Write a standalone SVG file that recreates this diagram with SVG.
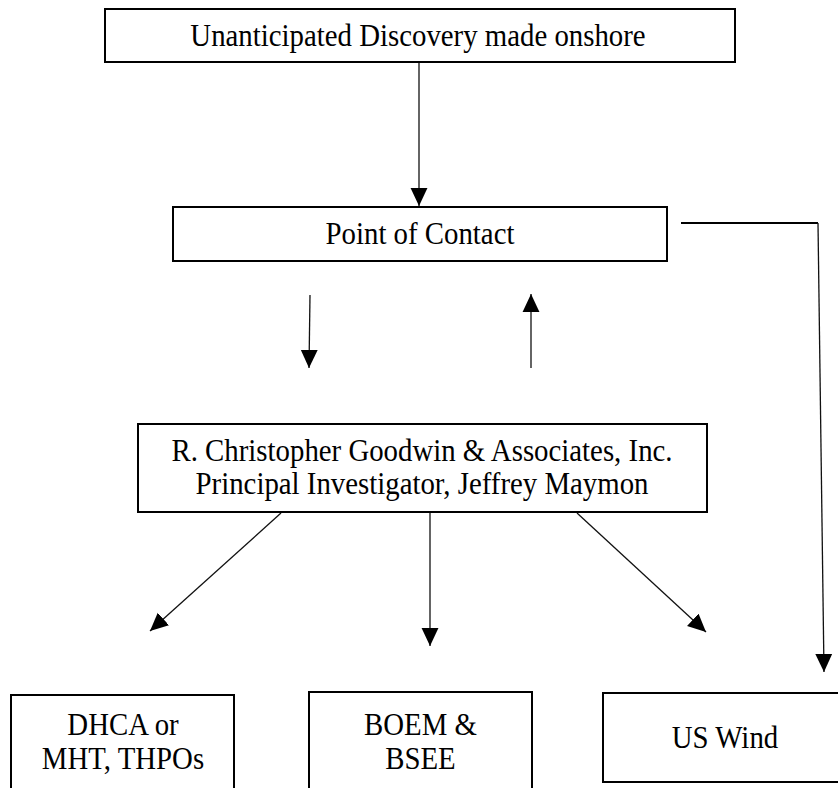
<svg xmlns="http://www.w3.org/2000/svg" width="838" height="788" viewBox="0 0 838 788">
<style>
.box{fill:#fff;stroke:#000;stroke-width:2}
.t{font-family:"Liberation Serif","Times New Roman",serif;font-size:31px;fill:#000;text-anchor:middle}
.c{stroke:#111;stroke-width:1.3;fill:none}
</style>
<defs>
<marker id="ah" markerUnits="userSpaceOnUse" markerWidth="18" markerHeight="18" viewBox="0 0 16 16" refX="16" refY="8" orient="auto">
<path d="M0,0.5 L16,8 L0,15.5 Z" fill="#000"/>
</marker>
</defs>
<rect width="838" height="788" fill="#fff"/>
<g id="connectors">
<line class="c" x1="419" y1="62" x2="419" y2="206" marker-end="url(#ah)"/>
<line class="c" x1="310" y1="295" x2="309" y2="368" marker-end="url(#ah)"/>
<line class="c" x1="531" y1="368" x2="531" y2="294" marker-end="url(#ah)"/>
<line class="c" x1="281" y1="513" x2="150" y2="631" marker-end="url(#ah)"/>
<line class="c" x1="430" y1="513" x2="430" y2="646" marker-end="url(#ah)"/>
<line class="c" x1="577" y1="513" x2="706" y2="632" marker-end="url(#ah)"/>
<line x1="681" y1="223" x2="818" y2="223" stroke="#000" stroke-width="2.2"/>
<line class="c" x1="818" y1="223" x2="824" y2="672" marker-end="url(#ah)"/>
</g>
<g id="discovery">
<rect class="box" x="105" y="9" width="630" height="53"/>
<text class="t" transform="translate(418,46) scale(0.93,1)">Unanticipated Discovery made onshore</text>
</g>
<g id="contact">
<rect class="box" x="173" y="207" width="494" height="54"/>
<text class="t" transform="translate(420,244) scale(0.93,1)">Point of Contact</text>
</g>
<g id="rcg">
<rect class="box" x="138" y="424" width="569" height="88"/>
<text class="t" transform="translate(422,461) scale(0.93,1)">R. Christopher Goodwin &amp; Associates, Inc.</text>
<text class="t" transform="translate(422,494) scale(0.93,1)">Principal Investigator, Jeffrey Maymon</text>
</g>
<g id="dhca">
<rect class="box" x="11" y="695" width="223" height="110"/>
<text class="t" transform="translate(123,735) scale(0.93,1)">DHCA or</text>
<text class="t" transform="translate(123,769) scale(0.93,1)">MHT, THPOs</text>
</g>
<g id="boem">
<rect class="box" x="309" y="692" width="223" height="110"/>
<text class="t" transform="translate(420.5,735) scale(0.93,1)">BOEM &amp;</text>
<text class="t" transform="translate(420.5,769) scale(0.93,1)">BSEE</text>
</g>
<g id="uswind">
<rect class="box" x="603" y="693" width="245" height="89"/>
<text class="t" transform="translate(725,748) scale(0.93,1)">US Wind</text>
</g>
</svg>
